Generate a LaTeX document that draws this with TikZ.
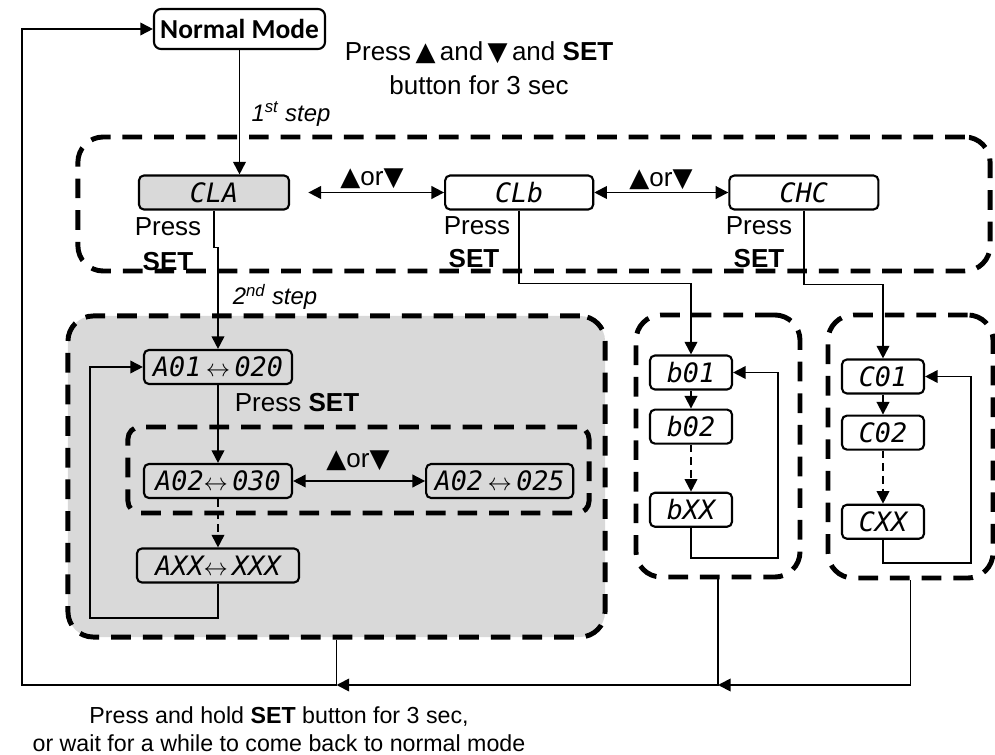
\documentclass[tikz,border=0pt]{standalone}
\usepackage{fontspec}
\setmainfont{Liberation Sans}
\newfontfamily\modefont{Carlito}
\newfontfamily\segfont{DejaVu Sans Mono}
\newfontfamily\symfont{DejaVu Sans}
\usetikzlibrary{arrows.meta}
\usetikzlibrary{positioning}

\newcommand{\arrup}{{\symfont ▲}}
\newcommand{\arrdn}{{\symfont ▼}}

\tikzset{
    disp/.style={draw, line width=1.5pt, rounded corners=3.5pt, inner sep=0pt,
        minimum height=0.85cm, font=\segfont\itshape\fontsize{19}{19}\selectfont},
    grp/.style={draw, line width=3.5pt, dash pattern=on 14pt off 8.5pt,
        rounded corners=18pt, inner sep=0pt},
    lbl/.style={font=\fontsize{18.5}{24}\selectfont},
    stepnote/.style={font=\itshape\fontsize{17}{17}\selectfont},
    conn/.style={line width=1.3pt, ->},
    gapline/.style={dash pattern=on 5.5pt off 3.5pt}
}

\begin{document}
\begin{tikzpicture}[x=0.025cm, y=-0.025cm, >={Triangle[length=9pt,width=9pt]}]
    \useasboundingbox (0,0) rectangle (995,755);
    % dashed groups
    \node[grp, fill=black!15, minimum width=13.425cm, minimum height=8.025cm] (grpA) at (336.5,476.5) {};
    \node[grp, minimum width=22.8cm, minimum height=3.35cm] (grp1) at (534,204) {};
    \node[grp, rounded corners=8.5pt, minimum width=11.525cm, minimum height=2.15cm] (grpA2) at (358.5,470) {};
    \node[grp, minimum width=4.1cm, minimum height=6.55cm] (grpB) at (718,446) {};
    \node[grp, minimum width=4.125cm, minimum height=6.575cm] (grpC) at (910.5,446.5) {};

    \node[draw, line width=1.5pt, rounded corners=5pt, inner sep=0pt, minimum width=4.275cm,
        minimum height=1cm, font=\modefont\bfseries\fontsize{19.5}{20}\selectfont] (normal) at (239.5,29) {Normal Mode};
    \node[lbl, align=center] (hint) at (479,68) {Press\,\arrup\,and\,\arrdn\,and \textbf{SET}\\button for 3 sec};

    % first level
    \node[disp, fill=black!15, minimum width=3.75cm] (cla) at (214,192.5) {CLA};
    \node[disp, minimum width=3.7cm] (clb) [right=3.85cm of cla] {CLb};
    \node[disp, minimum width=3.725cm] (chc) [right=3.35cm of clb] {CHC};
    \node[lbl] (pa) at (168,227) {Press};
    \node[lbl] (sa) at (168,262) {\textbf{SET}};
    \node[lbl] (pb) at (477,226) {Press};
    \node[lbl] (sb) at (474,259) {\textbf{SET}};
    \node[lbl] (pc) at (759,226) {Press};
    \node[lbl] (sc) at (759,259) {\textbf{SET}};
    \node[lbl] (or1) at (372,179) {\arrup or\arrdn};
    \node[lbl] (or2) at (661,180) {\arrup or\arrdn};
    \node[stepnote] (s1) at (291,114) {1\textsuperscript{st} step};
    \node[stepnote] (s2) at (275,297) {2\textsuperscript{nd} step};

    % A group
    \node[disp, minimum width=3.7cm] (a01) at (218,367) {A01\,$\leftrightarrow$\,020};
    \node[lbl] (pset) at (297,403) {Press \textbf{SET}};
    \node[disp, minimum width=3.7cm] (a02a) at (218,481) {A02$\leftrightarrow$\,030};
    \node[disp, minimum width=3.675cm] (a02b) [right=3.3cm of a02a] {A02\,$\leftrightarrow$\,025};
    \node[lbl] (or3) at (358,461) {\arrup or\arrdn};
    \node[disp, minimum width=4.05cm] (axx) at (218,565.5) {AXX$\leftrightarrow$\,XXX};
    \coordinate (aloop) at (90,618);

    % b and C groups
    \node[disp, minimum width=2.05cm] (b01) at (691,372.5) {b01};
    \node[disp, minimum width=2.05cm] (b02) [below=0.45cm of b01] {b02};
    \node[disp, minimum width=2.05cm] (bxx) [below=1.175cm of b02] {bXX};
    \coordinate (bloop) at (778,558);
    \node[disp, minimum width=2.05cm] (c01) at (883,376.5) {C01};
    \node[disp, minimum width=2.05cm] (c02) [below=0.5cm of c01] {C02};
    \node[disp, minimum width=2.05cm] (cxx) [below=1.325cm of c02] {CXX};
    \coordinate (cloop) at (971,563);

    \node[align=center, font=\fontsize{16.5}{20}\selectfont] (back) at (279,729)
        {Press and hold \textbf{SET} button for 3 sec,\\or wait for a while to come back to normal mode};
    \coordinate (lb) at (22,685);

    % connectors
    \draw[conn] (normal.south) -- (normal.south |- cla.north);
    \draw[conn, <->, shorten <=13pt] (cla) -- (clb);
    \draw[conn, <->] (clb) -- (chc);
    \draw[conn] (cla.south) -- ++(0,37) -| (a01.north);
    \draw[conn] (clb.south) -- ++(0,73) -| (b01.north);
    \draw[conn] (chc.south) -- ++(0,74) -| (c01.north);
    \draw[conn] (a01) -- (a02a);
    \draw[conn, <->] (a02a) -- (a02b);
    \draw[conn, gapline] (a02a) -- (axx);
    \draw[conn] (axx.south) |- (aloop) |- (a01.west);
    \draw[conn] (b01) -- (b02);
    \draw[conn, gapline] (b02) -- (bxx);
    \draw[conn] (bxx.south) |- (bloop) |- (b01.east);
    \draw[conn] (c01) -- (c02);
    \draw[conn, gapline] (c02) -- (cxx);
    \draw[conn] (cxx.south) |- (cloop) |- (c01.east);
    \draw[conn] (grpA.south) |- (lb) |- (normal.west);
    \draw[conn] (grpB.south) |- (grpA.south |- lb);
    \draw[conn] (grpC.south) |- (grpB.south |- lb);
\end{tikzpicture}
\end{document}
